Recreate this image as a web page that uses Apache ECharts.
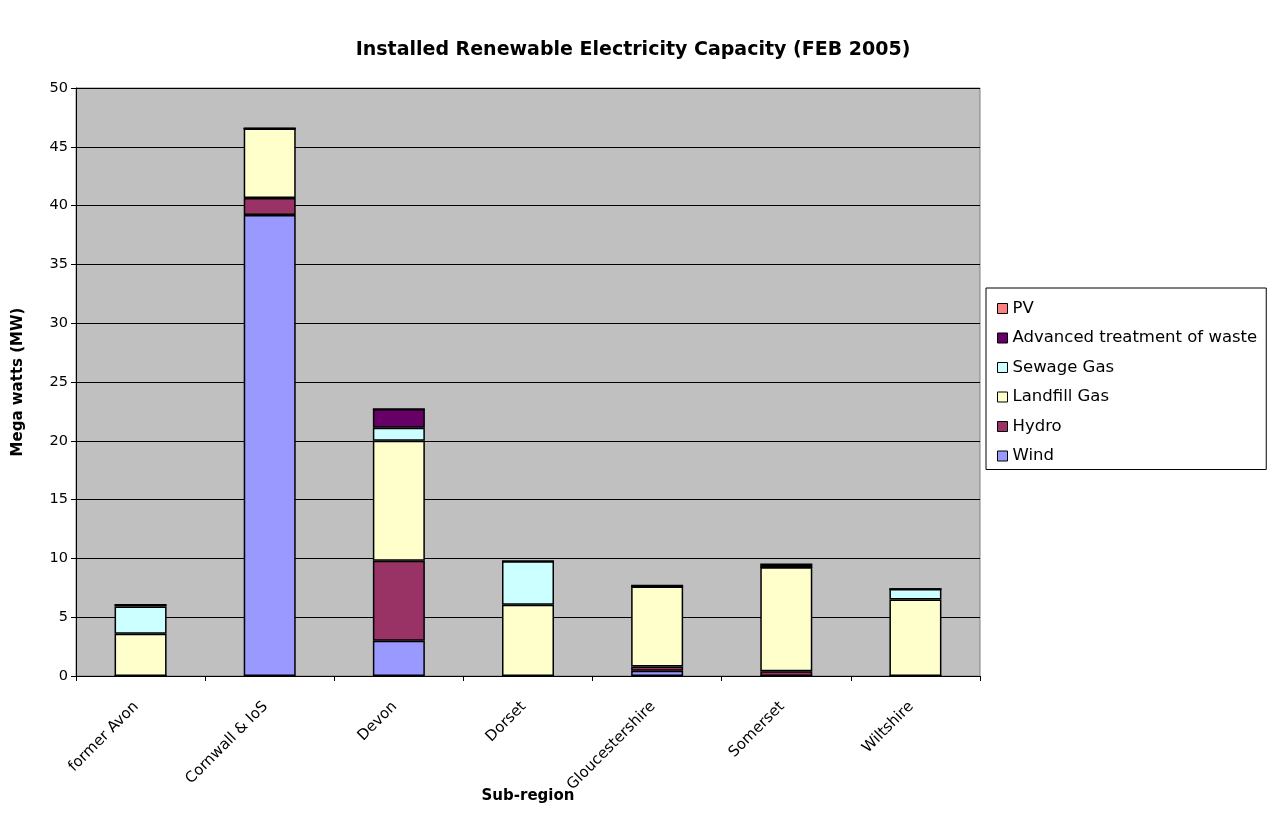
<!DOCTYPE html>
<html>
<head>
<meta charset="utf-8">
<script src="https://cdn.jsdelivr.net/npm/echarts@6/dist/echarts.min.js"></script>
<style>
  html, body { margin: 0; padding: 0; background: #fff; }
  #chart { width: 1279px; height: 837px; }
</style>
</head>
<body>
<div id="chart"></div>
<script>
// Sub-regions along the category axis
const categories = ['former Avon', 'Cornwall & IoS', 'Devon', 'Dorset', 'Gloucestershire', 'Somerset', 'Wiltshire'];

// Installed capacity (MW) per technology, one value per sub-region
const wind     = [0,    39.2, 3.0,  0,    0.45, 0,    0];
const hydro    = [0,    1.45, 6.8,  0,    0.35, 0.4,  0];
const landfill = [3.6,  5.9,  10.2, 6.05, 6.8,  8.85, 6.5];
const sewage   = [2.3,  0,    1.1,  3.7,  0,    0,    0.9];
const atw      = [0.15, 0,    1.6,  0,    0.1,  0.25, 0];
const pv       = [0,    0,    0,    0,    0,    0,    0];

// Value axis ticks
const yMin = 0, yMax = 50, yStep = 5;

const FONT = '"DejaVu Sans", "Liberation Sans", Arial, sans-serif';

const stackDefs = [
  { name: 'Wind', data: wind, color: '#9999FF' },
  { name: 'Hydro', data: hydro, color: '#993366' },
  { name: 'Landfill Gas', data: landfill, color: '#FFFFCC' },
  { name: 'Sewage Gas', data: sewage, color: '#CCFFFF' },
  { name: 'Advanced treatment of waste', data: atw, color: '#660066' },
  { name: 'PV', data: pv, color: '#FF8080' }
];

const chart = echarts.init(document.getElementById('chart'), null, { renderer: 'canvas' });

chart.setOption({
  animation: false,
  textStyle: { fontFamily: FONT },
  title: {
    text: 'Installed Renewable Electricity Capacity (FEB 2005)',
    left: 628,
    textAlign: 'center',
    top: 36,
    textStyle: { fontFamily: FONT, fontSize: 19, fontWeight: 'bold', color: '#000' }
  },
  legend: {
    orient: 'vertical',
    left: 986,
    top: 288,
    padding: [12, 9, 5, 11],
    itemGap: 12.5,
    itemWidth: 10,
    itemHeight: 10,
    borderColor: '#000',
    borderWidth: 1,
    backgroundColor: '#fff',
    icon: 'rect',
    data: ['PV', 'Advanced treatment of waste', 'Sewage Gas', 'Landfill Gas', 'Hydro', 'Wind'],
    itemStyle: { borderColor: '#000', borderWidth: 1 },
    textStyle: { fontFamily: FONT, fontSize: 16.5, lineHeight: 16.5, color: '#000' }
  },
  grid: {
    left: 76,
    top: 88,
    width: 904,
    height: 588,
    show: true,
    backgroundColor: '#C0C0C0',
    borderColor: '#808080',
    borderWidth: 1
  },
  xAxis: {
    type: 'category',
    data: categories,
    name: 'Sub-region',
    nameLocation: 'middle',
    nameGap: 113,
    nameMoveOverlap: false,
    nameTextStyle: { fontFamily: FONT, fontSize: 15, fontWeight: 'bold', color: '#000' },
    axisLine: { lineStyle: { color: '#000', width: 1 } },
    axisTick: { show: true, length: 5, alignWithLabel: false, lineStyle: { color: '#000' } },
    axisLabel: { rotate: 45, margin: 24, padding: [0, 6, 0, 0], fontFamily: FONT, fontSize: 15, color: '#000' },
    splitLine: { show: false }
  },
  yAxis: {
    type: 'value',
    min: yMin,
    max: yMax,
    interval: yStep,
    name: 'Mega watts (MW)',
    nameLocation: 'middle',
    nameGap: 50,
    nameRotate: 90,
    nameMoveOverlap: false,
    nameTextStyle: { fontFamily: FONT, fontSize: 15, fontWeight: 'bold', color: '#000' },
    axisLine: { show: true, lineStyle: { color: '#000', width: 1 } },
    axisTick: { show: true, length: 5, lineStyle: { color: '#000' } },
    axisLabel: { margin: 8, fontFamily: FONT, fontSize: 14.5, color: '#000' },
    splitLine: { show: true, lineStyle: { color: '#000', width: 1 } }
  },
  series: stackDefs.map(s => ({
    name: s.name,
    type: 'bar',
    stack: 'capacity',
    data: s.data,
    barWidth: 52,
    itemStyle: { color: s.color, borderColor: '#000', borderWidth: 1.5 },
    emphasis: { disabled: true }
  }))
});
</script>
</body>
</html>
